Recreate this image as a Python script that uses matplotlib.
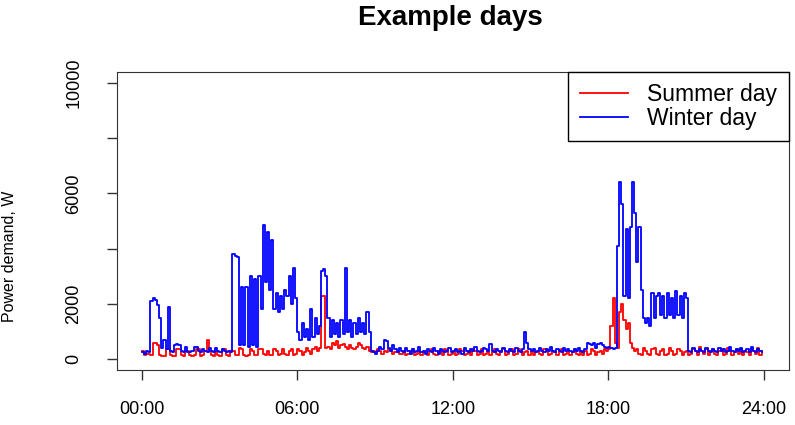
import numpy as np
import matplotlib
matplotlib.use("Agg")
import matplotlib.pyplot as plt

plt.rcParams['font.family'] = ['Liberation Sans', 'DejaVu Sans']

# valori ogni 5 minuti, una riga per ora (W)
winter = [
    [250, 200, 300, 250, 2100, 2200, 2150, 1950, 1500, 400, 700, 350],
    [1900, 300, 250, 500, 550, 500, 300, 250, 450, 250, 250, 300],
    [450, 450, 300, 250, 350, 300, 250, 400, 300, 250, 400, 300],
    [250, 350, 300, 250, 300, 250, 3800, 3750, 3700, 500, 2600, 500],
    [2600, 450, 3000, 500, 2900, 450, 3000, 1800, 4850, 2800, 4600, 2500],
    [4300, 1800, 2400, 1700, 2300, 1800, 2500, 2300, 3000, 2000, 3300, 2200],
    [1000, 700, 1300, 800, 1100, 700, 1800, 800, 1500, 900, 1200, 3200],
    [3250, 3000, 1500, 800, 1400, 900, 1300, 800, 1400, 900, 3300, 1000],
    [1400, 800, 1300, 900, 1500, 1000, 1300, 900, 1700, 1000, 300, 250],
    [200, 300, 450, 350, 700, 650, 400, 300, 500, 350, 250, 400],
    [300, 250, 400, 300, 200, 350, 250, 300, 450, 250, 300, 200],
    [350, 300, 250, 400, 300, 200, 350, 300, 250, 300, 400, 250],
    [300, 350, 250, 300, 200, 400, 300, 250, 350, 300, 450, 300],
    [250, 300, 400, 350, 300, 550, 300, 250, 350, 300, 250, 400],
    [300, 250, 350, 300, 250, 400, 300, 250, 350, 1000, 600, 350],
    [300, 350, 250, 300, 400, 300, 250, 350, 300, 450, 300, 250],
    [350, 300, 250, 400, 300, 350, 300, 250, 350, 300, 400, 300],
    [250, 350, 600, 550, 500, 600, 400, 550, 600, 500, 450, 400],
    [450, 400, 350, 400, 4100, 6400, 5600, 2300, 4700, 2200, 4800, 6400],
    [5300, 3500, 4800, 2500, 1500, 1300, 1500, 1200, 2400, 1500, 2300, 2400],
    [1600, 2300, 1500, 2400, 1600, 2200, 1500, 2450, 1600, 2300, 1500, 2400],
    [2200, 300, 250, 400, 300, 250, 350, 300, 250, 400, 300, 250],
    [350, 300, 250, 400, 300, 350, 250, 300, 450, 300, 250, 350],
    [300, 400, 250, 300, 350, 250, 450, 300, 250, 350, 300, 250],
]

summer = [
    [300, 150, 200, 200, 150, 600, 600, 500, 150, 100, 100, 350],
    [350, 150, 100, 100, 350, 350, 150, 100, 300, 300, 150, 100],
    [150, 350, 350, 100, 150, 300, 700, 300, 150, 100, 300, 150],
    [100, 350, 350, 150, 100, 300, 300, 150, 150, 400, 350, 150],
    [100, 150, 350, 300, 150, 150, 350, 350, 200, 150, 300, 150],
    [150, 350, 300, 150, 200, 350, 200, 150, 300, 350, 150, 200],
    [350, 300, 150, 250, 400, 300, 200, 350, 450, 300, 400, 2300],
    [2300, 400, 450, 350, 600, 500, 650, 400, 500, 550, 450, 350],
    [500, 400, 350, 450, 600, 500, 400, 350, 450, 300, 250, 300],
    [250, 350, 300, 200, 300, 250, 350, 300, 200, 250, 300, 200],
    [200, 300, 150, 200, 300, 350, 150, 200, 300, 150, 250, 300],
    [150, 300, 350, 200, 150, 300, 250, 150, 350, 300, 150, 200],
    [300, 150, 200, 350, 300, 150, 200, 300, 150, 350, 300, 150],
    [200, 350, 150, 200, 300, 150, 250, 350, 200, 150, 300, 350],
    [150, 200, 300, 350, 150, 200, 350, 300, 150, 250, 300, 150],
    [300, 150, 250, 300, 200, 150, 350, 300, 150, 200, 300, 250],
    [150, 300, 350, 150, 200, 300, 150, 250, 350, 200, 150, 300],
    [150, 300, 150, 200, 350, 300, 150, 250, 300, 200, 350, 300],
    [350, 1200, 2200, 600, 400, 1700, 2000, 1400, 1100, 1300, 600, 400],
    [300, 350, 200, 150, 400, 300, 200, 150, 350, 400, 200, 150],
    [300, 350, 150, 200, 400, 300, 150, 200, 350, 300, 150, 250],
    [300, 150, 200, 350, 300, 150, 450, 300, 200, 350, 150, 300],
    [350, 200, 150, 300, 350, 150, 200, 400, 300, 150, 250, 350],
    [200, 350, 150, 300, 250, 150, 350, 300, 200, 400, 150, 300],
]

tick_hours = [0, 6, 12, 18, 24]
tick_labels = ['00:00', '06:00', '12:00', '18:00', '24:00']
y_ticks = [0, 2000, 4000, 6000, 8000, 10000]
y_labels = ['0', '2000', '', '6000', '', '10000']

winter = np.array(winter).ravel()
summer = np.array(summer).ravel()
hours = np.arange(len(winter)) * 5 / 60.0

fig = plt.figure(figsize=(7.95, 4.25), dpi=100)
ax = fig.add_axes([0.147, 0.129, 0.845, 0.702])

ax.step(hours, summer, where='post', color='#FF0000', lw=1.3, label='Summer day')
ax.step(hours, winter, where='post', color='#0000FF', lw=1.3, label='Winter day')

ax.set_xlim(-0.96, 24.96)
ax.set_ylim(-400, 10400)

ax.set_xticks(tick_hours)
ax.set_xticklabels(tick_labels, fontsize=13)
ax.set_yticks(y_ticks)
ax.set_yticklabels(y_labels, fontsize=13, rotation=90, va='center')
ax.tick_params(length=7, width=1, color='#333333')
ax.tick_params(axis='x', pad=15)
ax.tick_params(axis='y', pad=18)
for s in ax.spines.values():
    s.set_color('#333333')

ax.set_ylabel('Power demand, W', fontsize=11.5, labelpad=26)
ax.yaxis.set_label_coords(-0.148, 0.38)
fig.text(0.567, 0.958, 'Example days', fontsize=20, fontweight='bold',
         ha='center', va='center')

leg = ax.legend(loc='upper right', borderaxespad=0, fancybox=False,
                edgecolor='black', framealpha=1, fontsize=16.5,
                handlelength=2.1, handletextpad=0.85, borderpad=0.5,
                labelspacing=0.02)
leg.get_frame().set_linewidth(1.0)

fig.savefig('out.png', dpi=100)
